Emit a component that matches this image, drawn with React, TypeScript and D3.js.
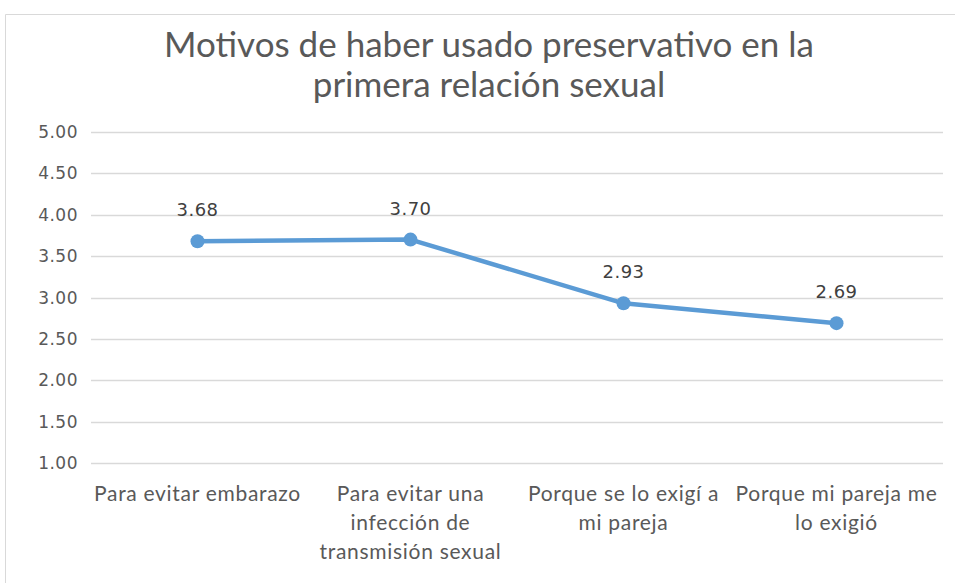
import React, { useEffect, useRef } from 'react';
import * as d3 from 'd3';

const categories = [
  ['Para evitar embarazo'],
  ['Para evitar una', 'infección de', 'transmisión sexual'],
  ['Porque se lo exigí a', 'mi pareja'],
  ['Porque mi pareja me', 'lo exigió'],
];
const values = [3.68, 3.7, 2.93, 2.69];
const yTicks = [1, 1.5, 2, 2.5, 3, 3.5, 4, 4.5, 5];
const titleLines = ['Motivos de haber usado preservativo en la', 'primera relación sexual'];

export default function App() {
  const ref = useRef<SVGSVGElement>(null);

  useEffect(() => {
    const width = 955;
    const height = 583;
    const margin = { top: 132, right: 12, bottom: 120, left: 91 };
    const svg = d3.select(ref.current);
    svg.selectAll('*').remove();

    svg.append('rect')
      .attr('width', width)
      .attr('height', height)
      .attr('fill', '#fff');

    // chart frame
    svg.append('path')
      .attr('d', `M5.5,${height} V14.5 H${width}`)
      .attr('fill', 'none')
      .attr('stroke', '#d9d9d9');

    const x = d3.scaleBand<number>()
      .domain(d3.range(categories.length))
      .range([margin.left, width - margin.right]);

    const y = d3.scaleLinear()
      .domain([1, 5])
      .range([height - margin.bottom, margin.top]);

    const title = svg.append('text')
      .attr('text-anchor', 'middle')
      .attr('fill', '#595959')
      .style('font-family', 'Lato, sans-serif')
      .style('font-size', '35px');
    titleLines.forEach((t, i) => {
      title.append('tspan')
        .attr('x', 489)
        .attr('y', 57 + i * 40)
        .text(t);
    });

    svg.append('g')
      .selectAll('line')
      .data(yTicks)
      .enter()
      .append('line')
      .attr('x1', margin.left)
      .attr('x2', width - margin.right)
      .attr('y1', d => Math.round(y(d)) + 0.5)
      .attr('y2', d => Math.round(y(d)) + 0.5)
      .attr('stroke', '#d9d9d9')
      .attr('stroke-width', 1.5);

    svg.append('g')
      .selectAll('text')
      .data(yTicks)
      .enter()
      .append('text')
      .attr('x', 78)
      .attr('y', d => y(d) + 6)
      .attr('text-anchor', 'end')
      .attr('fill', '#595959')
      .style('font-family', 'DejaVu Sans, sans-serif')
      .style('font-size', '17px')
      .style('letter-spacing', '0.5px')
      .text(d => d3.format('.2f')(d));

    const labels = svg.append('g')
      .selectAll('text')
      .data(categories)
      .enter()
      .append('text')
      .attr('text-anchor', 'middle')
      .attr('fill', '#595959')
      .style('font-family', 'Lato, sans-serif')
      .style('font-size', '21px')
      .style('letter-spacing', '0.7px');
    labels.each(function (lines, i) {
      const cx = x(i)! + x.bandwidth() / 2;
      lines.forEach((l, j) => {
        d3.select(this)
          .append('tspan')
          .attr('x', cx)
          .attr('y', 501 + j * 29)
          .text(l);
      });
    });

    const cxOf = (i: number) => x(i)! + x.bandwidth() / 2;

    const line = d3.line<number>()
      .x((d, i) => cxOf(i))
      .y(d => y(d));

    svg.append('path')
      .datum(values)
      .attr('d', line)
      .attr('fill', 'none')
      .attr('stroke', '#5b9bd5')
      .attr('stroke-width', 4.5)
      .attr('stroke-linejoin', 'round');

    svg.append('g')
      .selectAll('circle')
      .data(values)
      .enter()
      .append('circle')
      .attr('cx', (d, i) => cxOf(i))
      .attr('cy', d => y(d))
      .attr('r', 7)
      .attr('fill', '#5b9bd5');

    svg.append('g')
      .selectAll('text')
      .data(values)
      .enter()
      .append('text')
      .attr('x', (d, i) => cxOf(i))
      .attr('y', d => y(d) - 25)
      .attr('text-anchor', 'middle')
      .attr('fill', '#404040')
      .style('font-family', 'DejaVu Sans, sans-serif')
      .style('font-size', '18px')
      .style('letter-spacing', '0.5px')
      .text(d => d3.format('.2f')(d));
  }, []);

  return (
    <svg
      ref={ref}
      width={955}
      height={583}
      style={{ position: 'absolute', left: 0, top: 0 }}
    />
  );
}
